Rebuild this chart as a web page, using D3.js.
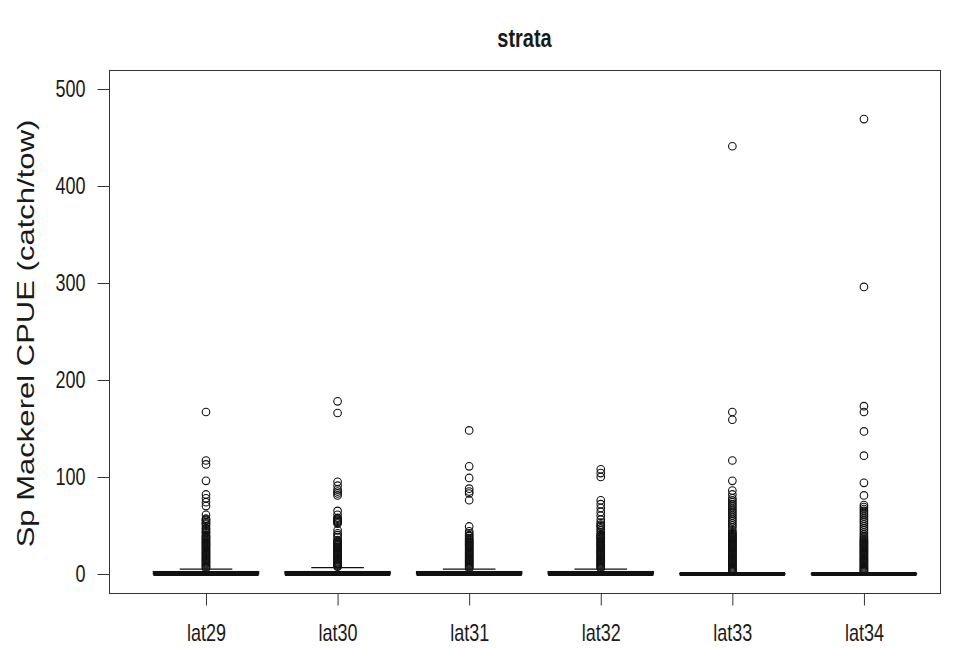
<!DOCTYPE html>
<html>
<head>
<meta charset="utf-8">
<script src="https://cdn.jsdelivr.net/npm/d3@7"></script>
<style>
  html, body { margin: 0; padding: 0; background: #fff; }
  svg { display: block; }
  text { font-family: "Liberation Sans", Arial, Helvetica, sans-serif; fill: #1a1a1a; }
</style>
</head>
<body>
<svg id="chart" width="956" height="648"></svg>
<script>
// ---------------- data ----------------
const categories = ["lat29", "lat30", "lat31", "lat32", "lat33", "lat34"];
const q1Values = [0, 0, 0, 0, 0, 0];
const medianValues = [0, 0, 0, 0, 0, 0];
const q3Values = [2.5, 2.5, 2.5, 2.5, 0.4, 0.4];
const whiskerLowValues = [0, 0, 0, 0, 0, 0];
const whiskerHighValues = [5, 6.5, 5, 5, 1.5, 1.5];

const outliersLat29 = [167, 117, 113, 96, 82, 78, 74, 70, 61, 57, 56, 55, 53, 52, 51, 49, 47, 46, 44, 43, 42, 40, 39, 38, 37,
  36, 35, 34, 33, 32, 31, 30, 29, 28, 27, 26, 25, 24, 23, 22, 21, 20, 19, 18, 17, 16, 15, 14, 13, 12, 11, 10, 9, 8, 7, 6];
const outliersLat30 = [178, 166, 95, 91, 87, 85, 83, 81, 65, 61, 58, 57, 56, 55, 54, 53, 52, 45, 42, 40, 38,
  35, 34, 33, 32, 31, 30, 29, 28, 27, 26, 25, 24, 23, 22, 21, 20, 19, 18, 17, 16, 15, 14, 13, 12, 11, 10, 9, 8, 7.5];
const outliersLat31 = [148, 111, 99, 88, 85, 83, 76, 49, 44, 42, 40, 39, 37, 36, 35, 34, 33, 32, 31, 30, 29, 28, 27,
  26, 25, 24, 23, 22, 21, 20, 19, 18, 17, 16, 15, 14, 13, 12, 11, 10, 9, 8, 7, 6];
const outliersLat32 = [108, 104, 100, 76, 72, 68, 64, 60, 56, 53, 51, 50, 49, 47, 45, 43, 41, 40, 39, 38, 37, 36, 35,
  34, 33, 32, 31, 30, 29, 28, 27, 26, 25, 24, 23, 22, 21, 20, 19, 18, 17, 16, 15, 14, 13, 12, 11, 10, 9, 8, 7, 6];
const outliersLat33 = [441, 167, 159, 117, 96, 86, 82, 78, 76, 74, 72, 70, 68, 66, 64, 62, 60, 58, 56, 54, 52, 50, 48,
  45, 43, 42, 41, 40, 39, 38, 37, 36, 35, 34, 33, 32, 31, 30, 29, 28, 27, 26, 25, 24, 23, 22, 21, 20, 19, 18, 17,
  16, 15, 14, 13, 12, 11, 10, 9, 8, 7, 6, 5, 4, 3, 2.5];
const outliersLat34 = [469, 296, 173, 167, 147, 122, 94, 81, 71, 69, 67, 65, 63, 61, 59, 57, 55, 53, 51, 49, 47, 45, 43,
  41, 39, 37.5, 36, 35, 34, 33, 32, 31, 30, 29, 28, 27, 26, 25, 24, 23, 22, 21, 20, 19, 18, 17, 16, 15, 14, 13, 12,
  11, 10, 9, 8, 7, 6, 5, 4, 3, 2.5];
const outlierGroups = [outliersLat29, outliersLat30, outliersLat31, outliersLat32, outliersLat33, outliersLat34];

const yTicks = [0, 100, 200, 300, 400, 500];
const titleText = "strata";
const yLabelText = "Sp Mackerel CPUE (catch/tow)";

// ---------------- layout ----------------
const plot = { left: 109, right: 940, top: 70, bottom: 593 };
const stretch = 1.3; // the reference glyphs are drawn taller than wide
const svg = d3.select("#chart");

const x = d3.scaleLinear().domain([0.263, 6.578]).range([plot.left, plot.right]);
const y = d3.scaleLinear().domain([-19.6, 519.6]).range([plot.bottom, plot.top]);

const boxes = categories.map((c, i) => ({
  cat: c, pos: i + 1,
  q1: q1Values[i], med: medianValues[i], q3: q3Values[i],
  lo: whiskerLowValues[i], hi: whiskerHighValues[i],
  out: outlierGroups[i]
}));

const boxHalf = 0.4;   // box width 0.8 units
const capHalf = 0.2;   // staple = half box width
const ink = "#111";

const g = svg.append("g");

// whiskers (dashed)
g.selectAll("line.whiskerHi").data(boxes).join("line")
  .attr("x1", d => x(d.pos)).attr("x2", d => x(d.pos))
  .attr("y1", d => y(d.q3)).attr("y2", d => y(d.hi))
  .attr("stroke", ink).attr("stroke-dasharray", "4,3");
g.selectAll("line.capHi").data(boxes).join("line")
  .attr("x1", d => x(d.pos - capHalf)).attr("x2", d => x(d.pos + capHalf))
  .attr("y1", d => y(d.hi)).attr("y2", d => y(d.hi))
  .attr("stroke", ink).attr("stroke-width", 1.2);
g.selectAll("line.capLo").data(boxes).join("line")
  .attr("x1", d => x(d.pos - capHalf)).attr("x2", d => x(d.pos + capHalf))
  .attr("y1", d => y(d.lo)).attr("y2", d => y(d.lo))
  .attr("stroke", ink).attr("stroke-width", 1.2);

// boxes
g.selectAll("rect.box").data(boxes).join("rect")
  .attr("x", d => x(d.pos - boxHalf))
  .attr("width", d => x(d.pos + boxHalf) - x(d.pos - boxHalf))
  .attr("y", d => y(d.q3))
  .attr("height", d => Math.max(0, y(d.q1) - y(d.q3)))
  .attr("fill", "none").attr("stroke", ink).attr("stroke-width", 1.2);

// medians
g.selectAll("line.median").data(boxes).join("line")
  .attr("x1", d => x(d.pos - boxHalf)).attr("x2", d => x(d.pos + boxHalf))
  .attr("y1", d => y(d.med)).attr("y2", d => y(d.med))
  .attr("stroke", ink).attr("stroke-width", 4);

// outliers
boxes.forEach(b => {
  g.append("g").selectAll("circle").data(b.out).join("circle")
    .attr("cx", x(b.pos)).attr("cy", v => y(v)).attr("r", 3.8)
    .attr("fill", "none").attr("stroke", ink).attr("stroke-width", 1.1);
});

// frame
svg.append("rect")
  .attr("x", plot.left + 0.5).attr("y", plot.top + 0.5)
  .attr("width", plot.right - plot.left).attr("height", plot.bottom - plot.top)
  .attr("fill", "none").attr("stroke", "#333").attr("stroke-width", 1);

// y axis
const yAxis = d3.axisLeft(y).tickValues(yTicks).tickSize(12).tickPadding(12).tickSizeOuter(0);
const ya = svg.append("g").attr("transform", `translate(${plot.left + 0.5},0)`).call(yAxis);
ya.select(".domain").remove();
ya.selectAll("line").attr("stroke", "#333");
ya.selectAll("text").attr("font-size", 18).attr("fill", "#2a2a2a")
  .style("font-family", '"Liberation Sans", Arial, sans-serif')
  .attr("transform", `scale(1,${stretch})`);

// x axis
const xAxis = d3.axisBottom(x).tickValues(boxes.map(b => b.pos))
  .tickFormat((d, i) => categories[i]).tickSize(12).tickPadding(22).tickSizeOuter(0);
const xa = svg.append("g").attr("transform", `translate(0,${plot.bottom + 0.5})`).call(xAxis);
xa.select(".domain").remove();
xa.selectAll("line").attr("stroke", "#333");
xa.selectAll("text").attr("font-size", 18).attr("fill", "#2a2a2a")
  .style("font-family", '"Liberation Sans", Arial, sans-serif')
  .attr("y", 31 / stretch).attr("dy", "0.71em")
  .attr("transform", `scale(1,${stretch})`);

// title
svg.append("text")
  .attr("transform", `translate(${(plot.left + plot.right) / 2},47) scale(1,${stretch})`)
  .attr("text-anchor", "middle").attr("font-size", 20).attr("font-weight", "bold")
  .text(titleText);

// y label
svg.append("text")
  .attr("transform", `translate(34,${(plot.top + plot.bottom) / 2 + 2}) rotate(-90) scale(${stretch + 0.05},1)`)
  .attr("text-anchor", "middle").attr("font-size", 23).attr("fill", "#2a2a2a")
  .text(yLabelText);
</script>
</body>
</html>
